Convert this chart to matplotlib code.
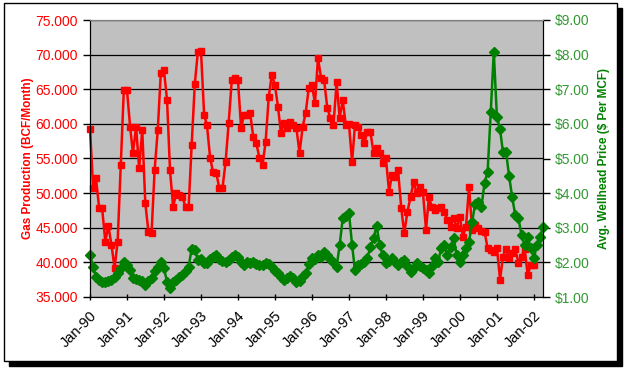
import matplotlib
matplotlib.use("Agg")
import matplotlib.pyplot as plt
import matplotlib.dates as mdates
from matplotlib.patches import Rectangle
from matplotlib.ticker import FuncFormatter
import numpy as np
import pandas as pd

plt.rcParams['font.family'] = ['Liberation Sans', 'DejaVu Sans']

# monthly, Jan-90 .. Apr-02
months = pd.date_range('1990-01-01', periods=148, freq='MS')

# gas production, thousands (BCF/Month), Jan-90 .. Jan-02
gas = [59.3, 50.7, 52.2, 47.9, 47.8, 43.0, 45.3, 42.5, 39.2, 43.0, 54.1, 64.9,
       64.9, 59.6, 55.8, 59.6, 53.6, 59.1, 48.6, 44.4, 44.3, 53.3, 59.1, 67.3,
       67.8, 63.4, 53.3, 48.0, 50.0, 49.7, 49.5, 48.0, 48.0, 57.0, 65.8, 70.4,
       70.5, 61.3, 59.8, 55.1, 53.0, 52.9, 50.7, 50.7, 54.5, 60.1, 66.3, 66.6,
       66.3, 59.4, 61.3, 61.3, 61.6, 58.1, 57.2, 55.1, 54.1, 57.4, 63.9, 67.1,
       65.6, 62.4, 58.7, 60.1, 59.4, 60.3, 59.8, 59.4, 55.8, 59.5, 61.6, 65.2,
       65.6, 63.0, 69.5, 66.6, 66.3, 62.3, 60.9, 59.8, 66.0, 60.9, 63.4, 59.8,
       60.0, 54.5, 59.8, 59.5, 58.4, 57.2, 58.8, 58.8, 55.8, 56.5, 55.8, 54.3,
       55.0, 50.2, 52.6, 52.3, 53.3, 47.9, 44.2, 47.3, 49.4, 51.6, 50.0, 50.9,
       50.2, 44.7, 49.4, 48.0, 47.6, 47.9, 48.0, 47.3, 46.1, 45.1, 46.4, 45.0,
       46.6, 43.7, 45.1, 50.9, 44.7, 45.4, 45.0, 44.6, 44.4, 42.1, 41.8, 41.5,
       42.1, 37.5, 40.8, 42.0, 40.6, 41.3, 42.0, 39.9, 40.8, 42.0, 38.2, 39.6,
       39.6]

# average wellhead price, $ per MCF, Jan-90 .. Apr-02
price = [2.21, 1.87, 1.58, 1.50, 1.43, 1.43, 1.45, 1.50, 1.58, 1.70, 1.85, 2.01,
         1.92, 1.78, 1.55, 1.52, 1.49, 1.45, 1.35, 1.45, 1.55, 1.75, 1.87, 2.00,
         1.84, 1.43, 1.26, 1.43, 1.49, 1.58, 1.64, 1.75, 1.87, 2.40, 2.36, 2.07,
         2.10, 1.98, 1.98, 2.10, 2.16, 2.20, 2.10, 2.05, 2.00, 2.07, 2.16, 2.20,
         2.16, 2.00, 1.92, 2.00, 1.98, 2.00, 1.95, 1.92, 1.92, 1.98, 1.95, 1.87,
         1.75, 1.69, 1.58, 1.49, 1.55, 1.60, 1.55, 1.42, 1.45, 1.60, 1.69, 1.95,
         2.13, 2.10, 2.20, 2.16, 2.30, 2.20, 2.10, 2.00, 1.87, 2.50, 3.28, 3.35,
         3.43, 2.50, 1.78, 1.92, 1.95, 2.01, 2.13, 2.44, 2.70, 3.05, 2.50, 2.20,
         1.98, 2.05, 2.13, 2.00, 1.92, 2.00, 2.07, 1.90, 1.72, 1.85, 1.98, 1.90,
         1.84, 1.78, 1.69, 1.90, 2.13, 2.01, 2.42, 2.50, 2.20, 2.45, 2.70, 2.20,
         2.01, 2.20, 2.42, 2.59, 3.17, 3.70, 3.74, 3.60, 4.30, 4.61, 6.34, 8.08,
         6.20, 5.85, 5.19, 5.19, 4.50, 3.88, 3.37, 3.28, 2.79, 2.50, 2.73, 2.42,
         2.13, 2.50, 2.73, 3.02]

red = '#ff0000'
green = '#008000'
W, H = 624, 371

fig = plt.figure(figsize=(W / 100, H / 100), dpi=100)

# chart frame with drop shadow, kept behind the axes
fig.patches.append(Rectangle((9 / W, 1 - 366 / H), 613 / W, 358 / H,
                             transform=fig.transFigure, color='black', zorder=-2))
fig.patches.append(Rectangle((4 / W, 1 - 361 / H), 613 / W, 358 / H,
                             transform=fig.transFigure, facecolor='white',
                             edgecolor='black', lw=1, zorder=-1))

ax = fig.add_axes([90 / W, 1 - 297 / H, 453 / W, 277 / H])
ax.set_facecolor('#c0c0c0')
ax.plot(months[:len(gas)], gas, color=red, marker='s', ms=5, lw=1.8,
        clip_on=False)
ax.set_ylim(35, 75)
ax.set_yticks(np.arange(35, 76, 5))
ax.yaxis.set_major_formatter(FuncFormatter(lambda v, p: f"{v:.3f}"))
ax.set_xlim(months[0], months[-1])
ax.xaxis.set_major_locator(mdates.YearLocator())
ax.xaxis.set_major_formatter(mdates.DateFormatter('%b-%y'))
ax.yaxis.grid(True, color='black', lw=0.9)
ax.set_axisbelow(True)
ax.tick_params(axis='y', labelcolor=red, color='black', labelsize=10,
               length=5, width=1)
ax.tick_params(axis='x', labelsize=10.5, length=5, width=1, direction='inout',
               pad=6)
for lab in ax.get_xticklabels():
    lab.set_rotation(45)
    lab.set_ha('right')
    lab.set_rotation_mode('anchor')
ax.set_ylabel('Gas Production (BCF/Month)', color=red, fontsize=8.5,
              fontweight='bold', labelpad=1)

ax2 = ax.twinx()
ax2.plot(months, price, color=green, marker='D', ms=5.5, lw=1.8,
         clip_on=False)
ax2.set_ylim(1, 9)
ax2.set_yticks(np.arange(1, 10, 1))
ax2.yaxis.set_major_formatter(FuncFormatter(lambda v, p: f"${v:.2f}"))
ax2.tick_params(axis='y', labelcolor='#339933', color='black', labelsize=10,
                length=5, width=1)
ax2.set_ylabel('Avg. Wellhead Price ($ Per MCF)', color=green, fontsize=8.5,
               fontweight='bold', labelpad=6)

for a in (ax, ax2):
    a.spines['top'].set_color('#808080')
    a.spines['left'].set_color('black')
    a.spines['right'].set_color('black')
    a.spines['bottom'].set_color('black')

fig.savefig('out.png', dpi=100)
